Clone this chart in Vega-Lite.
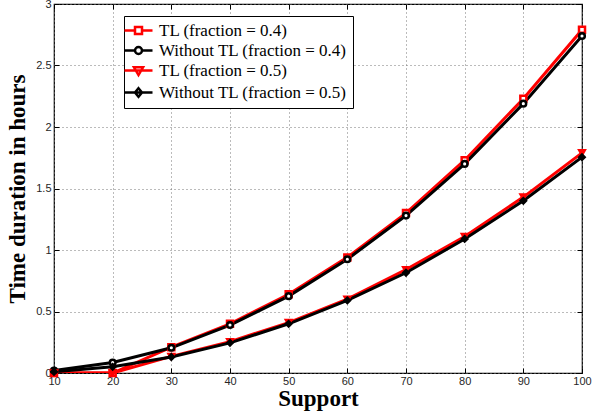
{
  "$schema": "https://vega.github.io/schema/vega-lite/v6.json",
  "width": 528,
  "height": 369,
  "autosize": {"type": "none"},
  "padding": {"left": 54, "top": 4, "right": 24, "bottom": 46},
  "background": "white",
  "data": {
    "values": [
      {"support": 10, "hours": 0.0, "series": "TL (fraction = 0.4)"},
      {"support": 20, "hours": 0.0, "series": "TL (fraction = 0.4)"},
      {"support": 30, "hours": 0.21, "series": "TL (fraction = 0.4)"},
      {"support": 40, "hours": 0.40, "series": "TL (fraction = 0.4)"},
      {"support": 50, "hours": 0.64, "series": "TL (fraction = 0.4)"},
      {"support": 60, "hours": 0.94, "series": "TL (fraction = 0.4)"},
      {"support": 70, "hours": 1.30, "series": "TL (fraction = 0.4)"},
      {"support": 80, "hours": 1.73, "series": "TL (fraction = 0.4)"},
      {"support": 90, "hours": 2.23, "series": "TL (fraction = 0.4)"},
      {"support": 100, "hours": 2.79, "series": "TL (fraction = 0.4)"},
      {"support": 10, "hours": 0.02, "series": "Without TL (fraction = 0.4)"},
      {"support": 20, "hours": 0.085, "series": "Without TL (fraction = 0.4)"},
      {"support": 30, "hours": 0.205, "series": "Without TL (fraction = 0.4)"},
      {"support": 40, "hours": 0.39, "series": "Without TL (fraction = 0.4)"},
      {"support": 50, "hours": 0.625, "series": "Without TL (fraction = 0.4)"},
      {"support": 60, "hours": 0.925, "series": "Without TL (fraction = 0.4)"},
      {"support": 70, "hours": 1.28, "series": "Without TL (fraction = 0.4)"},
      {"support": 80, "hours": 1.70, "series": "Without TL (fraction = 0.4)"},
      {"support": 90, "hours": 2.19, "series": "Without TL (fraction = 0.4)"},
      {"support": 100, "hours": 2.74, "series": "Without TL (fraction = 0.4)"},
      {"support": 10, "hours": 0.0, "series": "TL (fraction = 0.5)"},
      {"support": 20, "hours": 0.0, "series": "TL (fraction = 0.5)"},
      {"support": 30, "hours": 0.135, "series": "TL (fraction = 0.5)"},
      {"support": 40, "hours": 0.255, "series": "TL (fraction = 0.5)"},
      {"support": 50, "hours": 0.41, "series": "TL (fraction = 0.5)"},
      {"support": 60, "hours": 0.60, "series": "TL (fraction = 0.5)"},
      {"support": 70, "hours": 0.84, "series": "TL (fraction = 0.5)"},
      {"support": 80, "hours": 1.11, "series": "TL (fraction = 0.5)"},
      {"support": 90, "hours": 1.43, "series": "TL (fraction = 0.5)"},
      {"support": 100, "hours": 1.79, "series": "TL (fraction = 0.5)"},
      {"support": 10, "hours": 0.01, "series": "Without TL (fraction = 0.5)"},
      {"support": 20, "hours": 0.05, "series": "Without TL (fraction = 0.5)"},
      {"support": 30, "hours": 0.13, "series": "Without TL (fraction = 0.5)"},
      {"support": 40, "hours": 0.245, "series": "Without TL (fraction = 0.5)"},
      {"support": 50, "hours": 0.40, "series": "Without TL (fraction = 0.5)"},
      {"support": 60, "hours": 0.59, "series": "Without TL (fraction = 0.5)"},
      {"support": 70, "hours": 0.815, "series": "Without TL (fraction = 0.5)"},
      {"support": 80, "hours": 1.09, "series": "Without TL (fraction = 0.5)"},
      {"support": 90, "hours": 1.40, "series": "Without TL (fraction = 0.5)"},
      {"support": 100, "hours": 1.755, "series": "Without TL (fraction = 0.5)"}
    ]
  },
  "encoding": {
    "x": {"field": "support", "type": "quantitative", "scale": {"domain": [10, 100], "nice": false, "zero": false}},
    "y": {"field": "hours", "type": "quantitative", "scale": {"domain": [0, 3], "nice": false}}
  },
  "layer": [
    {
      "mark": {"type": "line", "strokeWidth": 3, "clip": true},
      "encoding": {
        "x": {
          "field": "support", "type": "quantitative",
          "axis": {
            "orient": "bottom", "title": "Support",
            "values": [10, 20, 30, 40, 50, 60, 70, 80, 90, 100],
            "tickSize": -5, "labelPadding": 7, "titlePadding": 1
          }
        },
        "y": {
          "field": "hours", "type": "quantitative",
          "axis": {
            "orient": "left", "title": "Time duration in hours",
            "values": [0, 0.5, 1, 1.5, 2, 2.5, 3], "format": "~g",
            "tickSize": -5, "labelPadding": 8, "titlePadding": 6
          }
        },
        "stroke": {
          "field": "series", "type": "nominal",
          "scale": {
            "domain": ["TL (fraction = 0.4)", "Without TL (fraction = 0.4)", "TL (fraction = 0.5)", "Without TL (fraction = 0.5)"],
            "range": ["#ff0000", "#000000", "#ff0000", "#000000"]
          },
          "legend": {
            "title": null,
            "orient": "none", "legendX": 70, "legendY": 12,
            "symbolSize": 196, "symbolStrokeWidth": 2.5, "symbolOpacity": 1,
            "labelOffset": 12, "padding": 6, "rowPadding": 2,
            "strokeColor": "black", "fillColor": "white"
          }
        }
      }
    },
    {
      "transform": [{"filter": "datum.series === 'TL (fraction = 0.4)'"}],
      "mark": {"type": "point", "shape": "square", "size": 36, "strokeWidth": 2.5, "stroke": "#ff0000", "fill": "#ffffff", "opacity": 1, "clip": false},
      "encoding": {
        "x": {
          "field": "support", "type": "quantitative",
          "axis": {"orient": "top", "title": null, "labels": false, "grid": false, "values": [10, 20, 30, 40, 50, 60, 70, 80, 90, 100], "tickSize": -5, "domain": false}
        },
        "y": {
          "field": "hours", "type": "quantitative",
          "axis": {"orient": "right", "title": null, "labels": false, "grid": false, "values": [0, 0.5, 1, 1.5, 2, 2.5, 3], "tickSize": -5, "domain": false}
        }
      }
    },
    {
      "transform": [{"filter": "datum.series === 'Without TL (fraction = 0.4)'"}],
      "mark": {"type": "point", "shape": "circle", "size": 32, "strokeWidth": 2.5, "stroke": "#000000", "fill": "#ffffff", "opacity": 1, "clip": false},
      "encoding": {
        "x": {"field": "support", "type": "quantitative", "axis": null},
        "y": {"field": "hours", "type": "quantitative", "axis": null}
      }
    },
    {
      "transform": [{"filter": "datum.series === 'TL (fraction = 0.5)'"}],
      "mark": {"type": "point", "shape": "triangle-down", "size": 40, "strokeWidth": 2, "stroke": "#ff0000", "fill": "#ff0000", "opacity": 1, "clip": false},
      "encoding": {
        "x": {"field": "support", "type": "quantitative", "axis": null},
        "y": {"field": "hours", "type": "quantitative", "axis": null}
      }
    },
    {
      "transform": [{"filter": "datum.series === 'Without TL (fraction = 0.5)'"}],
      "mark": {"type": "point", "shape": "diamond", "size": 36, "strokeWidth": 2, "stroke": "#000000", "fill": "#000000", "opacity": 1, "clip": false},
      "encoding": {
        "x": {"field": "support", "type": "quantitative", "axis": null},
        "y": {"field": "hours", "type": "quantitative", "axis": null}
      }
    },
    {
      "mark": {"type": "point", "opacity": 0, "strokeWidth": 2.5, "size": 196, "clip": true},
      "encoding": {
        "x": {"field": "support", "type": "quantitative", "axis": null},
        "y": {"field": "hours", "type": "quantitative", "axis": null},
        "stroke": {"field": "series", "type": "nominal"},
        "shape": {
          "field": "series", "type": "nominal",
          "scale": {
            "domain": ["TL (fraction = 0.4)", "Without TL (fraction = 0.4)", "TL (fraction = 0.5)", "Without TL (fraction = 0.5)"],
            "range": [
              "M-2,0H-0.5M0.5,0H2M-0.5,-0.5H0.5V0.5H-0.5Z",
              "M-2,0H-0.5M0.5,0H2M-0.5,0A0.5,0.5,0,1,0,0.5,0A0.5,0.5,0,1,0,-0.5,0Z",
              "M-2,0H2M-0.65,-0.45H0.65L0,0.65Z",
              "M-2,0H2M0,-0.6L0.5,0L0,0.6L-0.5,0Z"
            ]
          }
        },
        "fill": {
          "field": "series", "type": "nominal",
          "scale": {
            "domain": ["TL (fraction = 0.4)", "Without TL (fraction = 0.4)", "TL (fraction = 0.5)", "Without TL (fraction = 0.5)"],
            "range": ["#ffffff", "#ffffff", "#ff0000", "#000000"]
          }
        }
      }
    }
  ],
  "resolve": {"axis": {"x": "independent", "y": "independent"}},
  "config": {
    "view": {"stroke": "black", "strokeWidth": 1.2},
    "axis": {
      "domain": false, "labelFlush": false,
      "tickColor": "black", "tickWidth": 1,
      "grid": true, "gridColor": "#777777", "gridDash": [1, 3], "gridWidth": 1, "gridOpacity": 1,
      "labelFont": "Liberation Sans", "labelFontSize": 11, "labelColor": "#262626",
      "titleFont": "Liberation Serif", "titleFontSize": 23, "titleFontWeight": "bold", "titleColor": "black"
    },
    "legend": {
      "labelFont": "Liberation Serif", "labelFontSize": 17, "labelColor": "black", "labelLimit": 0
    }
  }
}
